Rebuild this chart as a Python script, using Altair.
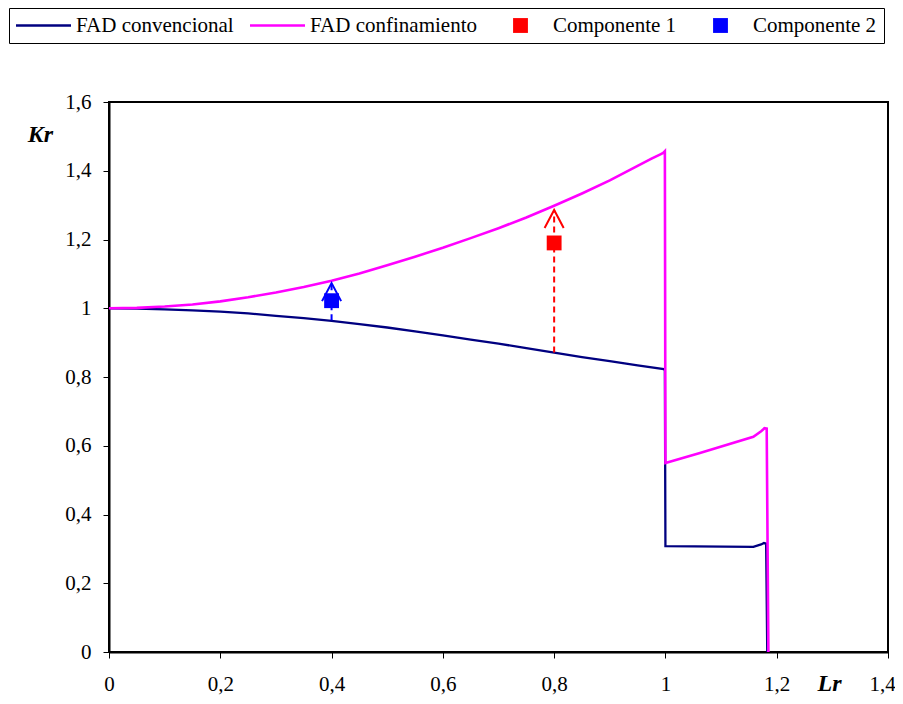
import altair as alt
import pandas as pd

# ---- data ----
series_names = ["FAD convencional", "FAD confinamiento", "Componente 1", "Componente 2"]

lr_conv = [0.0, 0.05, 0.1, 0.15, 0.2, 0.25, 0.3, 0.35, 0.4, 0.45, 0.5, 0.55, 0.6, 0.65, 0.7,
           0.75, 0.8, 0.85, 0.9, 0.95, 0.997, 0.999, 1.0,
           1.158, 1.172, 1.177, 1.181, 1.183]
kr_conv = [1.0, 0.999, 0.997, 0.994, 0.990, 0.985, 0.978, 0.971, 0.963, 0.954, 0.944, 0.933, 0.921,
           0.909, 0.897, 0.884, 0.871, 0.858, 0.846, 0.834, 0.823, 0.820, 0.308,
           0.306, 0.313, 0.317, 0.315, 0.0]

lr_conf = [0.0, 0.05, 0.1, 0.15, 0.2, 0.25, 0.3, 0.35, 0.4, 0.45, 0.5, 0.55, 0.6, 0.65, 0.7,
           0.75, 0.8, 0.85, 0.9, 0.95, 0.975, 0.99, 0.996, 0.999, 1.0,
           1.062, 1.158, 1.172, 1.178, 1.182, 1.185]
kr_conf = [1.0, 1.001, 1.005, 1.011, 1.020, 1.032, 1.046, 1.062, 1.080, 1.101, 1.125, 1.150, 1.176,
           1.204, 1.233, 1.264, 1.298, 1.334, 1.372, 1.414, 1.435, 1.447, 1.452, 1.457, 0.550,
           0.579, 0.626, 0.642, 0.651, 0.650, 0.0]

comp_names = ["Componente 1", "Componente 2"]
comp_lr = [0.8, 0.4]
comp_kr = [1.190, 1.022]
arrow_base = [0.871, 0.965]
arrow_tip = [1.286, 1.073]

x_ticks = [0, 0.2, 0.4, 0.6, 0.8, 1, 1.2, 1.4]
y_ticks = [0, 0.2, 0.4, 0.6, 0.8, 1, 1.2, 1.4, 1.6]

# ---- styles ----
series_colors = ["#000080", "#FF00FF", "#FF0000", "#0000FF"]
comp_colors = ["#FF0000", "#0000FF"]
FONT = "Times New Roman, Liberation Serif, DejaVu Serif, serif"
line_path = "M-1,-0.045H1V0.045H-1Z"
square_path = "M-0.27,-0.27H0.27V0.27H-0.27Z"
chevron_path = "M-0.53,1L0,0L0.53,1"

conv_df = pd.DataFrame({"Lr": lr_conv, "Kr": kr_conv, "i": list(range(len(lr_conv)))})
conf_df = pd.DataFrame({"Lr": lr_conf, "Kr": kr_conf, "i": list(range(len(lr_conf)))})
comp_df = pd.DataFrame({"serie": comp_names, "Lr": comp_lr, "Kr": comp_kr,
                        "base": arrow_base, "tip": arrow_tip})

label_expr = "replace(format(datum.value, '~g'), '.', ',')"

x_axis = alt.Axis(values=x_ticks, labelExpr=label_expr, title="Lr", grid=False,
                  labelFont=FONT, labelFontSize=21, labelColor="black", labelPadding=15,
                  labelFlush=False, labelOverlap=False,
                  labelOffset={"condition": {"test": "datum.value >= 1.39", "value": -6}, "value": 0},
                  tickSize=6, tickColor="black", tickWidth=1,
                  domainColor="black", domainWidth=2,
                  titleFont=FONT, titleFontSize=24, titleFontStyle="italic", titleFontWeight="bold",
                  titleColor="black", titleAngle=0, titleX=720, titleY=38,
                  titleAlign="center", titleBaseline="alphabetic")
y_axis = alt.Axis(values=y_ticks, labelExpr=label_expr, title="Kr", grid=False,
                  labelFont=FONT, labelFontSize=21, labelColor="black", labelPadding=12,
                  labelFlush=False, labelOverlap=False,
                  tickSize=6, tickColor="black", tickWidth=1,
                  domainColor="black", domainWidth=2,
                  titleFont=FONT, titleFontSize=24, titleFontStyle="italic", titleFontWeight="bold",
                  titleColor="black", titleAngle=0, titleX=-69, titleY=39,
                  titleAlign="center", titleBaseline="alphabetic")

x_scale = alt.Scale(domain=[0, 1.4], nice=False, zero=False)
y_scale = alt.Scale(domain=[0, 1.6], nice=False, zero=False)


def X(field):
    return alt.X(f"{field}:Q", scale=x_scale, axis=x_axis)


def Y(field):
    return alt.Y(f"{field}:Q", scale=y_scale, axis=y_axis)


conv_line = alt.Chart(conv_df).mark_line(color=series_colors[0], strokeWidth=2.3).encode(
    x=X("Lr"), y=Y("Kr"), order="i:Q")
conf_line = alt.Chart(conf_df).mark_line(color=series_colors[1], strokeWidth=2.6).encode(
    x=X("Lr"), y=Y("Kr"), order="i:Q")

layers = [conv_line, conf_line]
for name, col in zip(comp_names, comp_colors):
    base = alt.Chart(comp_df).transform_filter(alt.datum.serie == name)
    layers.append(base.mark_rule(color=col, strokeWidth=2, strokeDash=[6, 4]).encode(
        x=X("Lr"), y=Y("base"), y2=alt.Y2("tip:Q")))
    layers.append(base.mark_point(shape=chevron_path, size=1296, filled=False, color=col,
                                  strokeWidth=2, opacity=1).encode(x=X("Lr"), y=Y("tip")))

legend = alt.Legend(title=None, orient="none", legendX=-100, legendY=-94,
                    direction="horizontal", columns=4, symbolSize=3025, clipHeight=21,
                    labelFont=FONT, labelFontSize=21, labelColor="black", labelOffset=5,
                    labelLimit=0, columnPadding=16, padding=7,
                    strokeColor="black", fillColor="white",
                    symbolStrokeWidth=0, symbolOpacity=1)

points = alt.Chart(comp_df).mark_point(filled=True, opacity=1, size=3025, strokeWidth=0).encode(
    x=X("Lr"), y=Y("Kr"),
    color=alt.Color("serie:N", scale=alt.Scale(domain=series_names, range=series_colors), legend=legend),
    shape=alt.Shape("serie:N", scale=alt.Scale(domain=series_names,
                                               range=[line_path, line_path, square_path, square_path]),
                    legend=legend),
)
layers.append(points)

chart = alt.layer(*layers).properties(
    width=779, height=550,
    autosize=alt.AutoSizeParams(type="none"),
    padding={"left": 101, "top": 94, "right": 7, "bottom": 44},
    background="white",
).configure_view(stroke="black", strokeWidth=2)

chart.save("out.html", embed_options={"renderer": "svg", "actions": False})
